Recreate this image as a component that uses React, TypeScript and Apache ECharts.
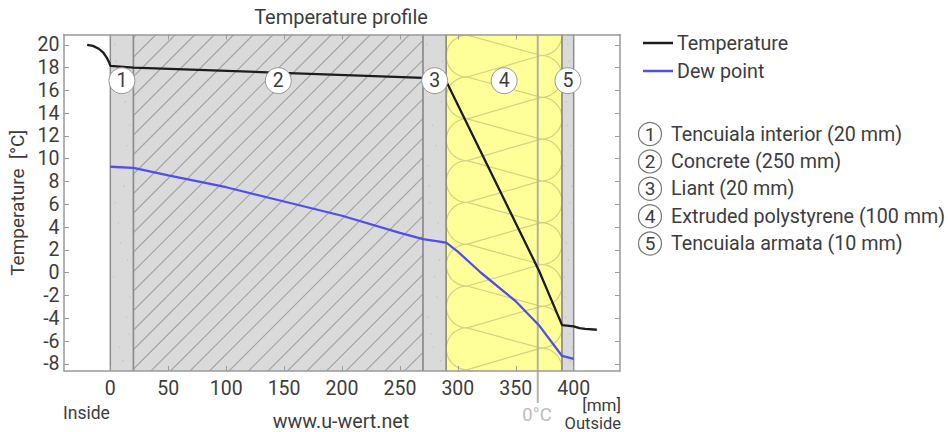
import React, { useEffect, useRef } from "react";
import * as echarts from "echarts";

const xTicks = [0, 50, 100, 150, 200, 250, 300, 350, 400];
const yTicks = [-8, -6, -4, -2, 0, 2, 4, 6, 8, 10, 12, 14, 16, 18, 20];

const temperature = [
  [-20, 20.0], [-15, 19.9], [-10, 19.65], [-6, 19.3], [-3, 18.85], [-1, 18.45], [0, 18.15],
  [20, 18.0], [270, 17.1], [290, 16.8], [370, 0.2], [390, -4.6], [400, -4.7],
  [405, -4.85], [410, -4.93], [420, -5.0],
];
const dewPoint = [
  [0, 9.3], [20, 9.2], [50, 8.55], [100, 7.5], [150, 6.25], [200, 5.0], [250, 3.5],
  [270, 2.95], [290, 2.65], [300, 1.85], [320, 0.0], [350, -2.5], [370, -4.6],
  [390, -7.3], [400, -7.55],
];
const layerNames = [
  "Tencuiala interior (20 mm)",
  "Concrete (250 mm)",
  "Liant (20 mm)",
  "Extruded polystyrene (100 mm)",
  "Tencuiala armata (10 mm)",
];
const layerStart = [0, 20, 270, 290, 390];
const layerEnd = [20, 270, 290, 390, 400];
const layerKind = ["plaster", "concrete", "plaster", "insulation", "plaster"];
const freezeX = 369;

const FONT = "Roboto";
const TEXT = "#3d3d3d";
const AXIS = "#9a9a9a";

const speckU = [0.2, 0.7, 0.45, 0.8, 0.3, 0.6, 0.15, 0.55, 0.85, 0.35, 0.7, 0.25, 0.5, 0.75, 0.4, 0.65, 0.2, 0.85];
const speckV = [0.03, 0.08, 0.14, 0.2, 0.27, 0.33, 0.39, 0.45, 0.5, 0.56, 0.62, 0.67, 0.72, 0.78, 0.84, 0.89, 0.93, 0.97];

function renderLayer(params: any, api: any) {
  const i = api.value(2);
  const kind = layerKind[i];
  const cs = params.coordSys;
  const x0 = api.coord([api.value(0), 0])[0];
  const x1 = api.coord([api.value(1), 0])[0];
  const yT = cs.y;
  const yB = cs.y + cs.height;
  const h = yB - yT;
  const children: any[] = [];
  const edge = kind === "insulation" ? "#94946e" : "#8c8c8c";
  children.push({
    type: "rect",
    shape: { x: x0, y: yT, width: x1 - x0, height: h },
    style: { fill: kind === "insulation" ? "#ffff99" : "#dadada" },
  });
  if (kind === "concrete") {
    const step = 19.5;
    for (let d = -h + ((h % step) - 2); d < x1 - x0; d += step) {
      let ax = x0 + d, ay = yB, bx = x0 + d + h, by = yT;
      if (ax < x0) { ay -= x0 - ax; ax = x0; }
      if (bx > x1) { by += bx - x1; bx = x1; }
      if (bx > ax) {
        children.push({
          type: "line",
          shape: { x1: ax, y1: ay, x2: bx, y2: by },
          style: { stroke: "#a3a3a3", lineWidth: 1.1 },
        });
      }
    }
  }
  if (kind === "plaster") {
    speckU.forEach((u, k) => {
      children.push({
        type: "circle",
        shape: { cx: x0 + u * (x1 - x0), cy: yT + speckV[(k * 5 + i * 3) % speckV.length] * h, r: 0.7 },
        style: { fill: "#c2c2c2" },
      });
    });
  }
  if (kind === "insulation") {
    const r = 21;
    const lx = x0 + r;
    const rx = x1 - r;
    const stroke = "#d2d283";
    const period = 41.8;
    const arc = (cx: number, cy: number, sign: number) => {
      const pts: number[][] = [];
      for (let a = -90; a <= 90; a += 10) {
        const t = (a * Math.PI) / 180;
        pts.push([cx + sign * r * Math.cos(t), cy + r * Math.sin(t)]);
      }
      return pts;
    };
    for (let k = -2; k < 9; k++) {
      const yl = 77 + period * k;
      const yr = 55.5 + period * k;
      children.push({ type: "polyline", shape: { points: arc(lx, yl + period / 2, -1) }, style: { fill: "none", stroke, lineWidth: 1.2 } });
      children.push({ type: "polyline", shape: { points: arc(rx, yr + period / 2, 1) }, style: { fill: "none", stroke, lineWidth: 1.2 } });
      children.push({ type: "line", shape: { x1: lx, y1: yl, x2: rx, y2: yr }, style: { stroke, lineWidth: 1.2 } });
      children.push({ type: "line", shape: { x1: lx, y1: yl, x2: rx, y2: yr + period }, style: { stroke, lineWidth: 1.2 } });
    }
  }
  [x0, x1].forEach((x) => {
    children.push({
      type: "line",
      shape: { x1: x, y1: yT, x2: x, y2: yB },
      style: { stroke: edge, lineWidth: 1.5 },
    });
  });
  return { type: "group", children };
}

function renderFreeze(params: any, api: any) {
  const cs = params.coordSys;
  const x = api.coord([api.value(0), 0])[0];
  return {
    type: "line",
    shape: { x1: x, y1: cs.y, x2: x, y2: cs.y + cs.height + 32 },
    style: { stroke: "#b2b2aa", lineWidth: 2 },
  };
}

export default function App() {
  const ref = useRef<HTMLDivElement>(null);
  useEffect(() => {
    const chart = echarts.init(ref.current!, undefined, { renderer: "svg" });
    const tickAxis = {
      axisLine: { show: true, onZero: false, lineStyle: { color: AXIS, width: 1.5 } },
      axisTick: { show: true, inside: true, length: 5, lineStyle: { color: AXIS, width: 1 } },
      splitLine: { show: false },
      z: 3,
    };
    const graphics: any[] = [];
    const txt = (text: string, x: number, y: number, size: number, align: string, fill = TEXT) => ({
      type: "text",
      x,
      y,
      silent: true,
      style: { text, fontFamily: FONT, fontSize: size, fill, align, verticalAlign: "middle" },
    });
    layerNames.forEach((n, i) => {
      const y = 134 + i * 27.4;
      graphics.push({
        type: "circle",
        x: 650,
        y,
        silent: true,
        shape: { cx: 0, cy: 0, r: 11.5 },
        style: { fill: "#fff", stroke: "#777", lineWidth: 1.2 },
      });
      graphics.push(txt(String(i + 1), 650, y, 19, "center"));
      graphics.push(txt(n, 671, y, 19.7, "left"));
    });
    graphics.push(txt("www.u-wert.net", 341, 421, 19.7, "center"));
    graphics.push(txt("Inside", 63, 413, 17.5, "left"));
    graphics.push(txt("[mm]", 621, 404.5, 17, "right"));
    graphics.push(txt("Outside", 621, 423, 16.5, "right"));
    graphics.push(txt("0°C", 537, 415, 18.5, "center", "#bdbdbd"));

    chart.setOption({
      animation: false,
      backgroundColor: "#fff",
      title: {
        text: "Temperature profile",
        left: 336,
        top: 2,
        textAlign: "center",
        textStyle: { fontFamily: FONT, fontSize: 20, fontWeight: "normal", color: TEXT },
      },
      grid: { left: 64, right: 328, top: 34.5, bottom: 61, outerBoundsMode: "none" },
      legend: {
        orient: "vertical",
        left: 643,
        top: 33,
        padding: 0,
        itemWidth: 30,
        itemHeight: 2.5,
        itemGap: 8,
        data: [
          { name: "Temperature", icon: "rect" },
          { name: "Dew point", icon: "rect" },
        ],
        textStyle: { fontFamily: FONT, fontSize: 19.7, color: TEXT, padding: [0, 0, 0, -1] },
      },
      xAxis: [
        {
          type: "value",
          min: -40,
          max: 440,
          ...tickAxis,
          axisTick: { ...tickAxis.axisTick, customValues: xTicks },
          axisLabel: { customValues: xTicks, fontFamily: FONT, fontSize: 19.5, color: TEXT, margin: 7 },
        },
        {
          type: "value",
          position: "top",
          min: -40,
          max: 440,
          ...tickAxis,
          axisTick: { ...tickAxis.axisTick, customValues: xTicks },
          axisLabel: { show: false },
        },
      ],
      yAxis: [
        {
          type: "value",
          min: -8.62,
          max: 20.9,
          name: "Temperature  [°C]",
          nameLocation: "middle",
          nameGap: 24,
          nameTextStyle: { fontFamily: FONT, fontSize: 19, color: TEXT },
          ...tickAxis,
          axisTick: { ...tickAxis.axisTick, customValues: yTicks },
          axisLabel: { customValues: yTicks, fontFamily: FONT, fontSize: 19.5, color: TEXT, margin: 4.5 },
        },
        {
          type: "value",
          position: "right",
          min: -8.62,
          max: 20.9,
          ...tickAxis,
          axisTick: { ...tickAxis.axisTick, customValues: yTicks },
          axisLabel: { show: false },
        },
      ],
      series: [
        {
          type: "custom",
          name: "layers",
          renderItem: renderLayer,
          data: layerStart.map((s, i) => [s, layerEnd[i], i]),
          clip: true,
          silent: true,
          z: 1,
          encode: { x: [0, 1] },
        },
        {
          type: "custom",
          name: "freeze",
          renderItem: renderFreeze,
          data: [[freezeX]],
          clip: false,
          silent: true,
          z: 2,
          encode: { x: 0 },
        },
        {
          type: "line",
          name: "Temperature",
          data: temperature,
          showSymbol: false,
          symbol: "none",
          lineStyle: { color: "#1c1c1c", width: 2.3 },
          itemStyle: { color: "#1c1c1c" },
          z: 4,
        },
        {
          type: "line",
          name: "Dew point",
          data: dewPoint,
          showSymbol: false,
          symbol: "none",
          lineStyle: { color: "#4f4ff0", width: 2.3 },
          itemStyle: { color: "#4f4ff0" },
          z: 4,
        },
        {
          type: "scatter",
          name: "tags",
          data: layerStart.map((s, i) => [(s + layerEnd[i]) / 2, 16.85, i + 1]),
          symbol: "circle",
          symbolSize: 26,
          itemStyle: { color: "#fff", borderColor: "#999", borderWidth: 1, opacity: 1 },
          label: {
            show: true,
            position: "inside",
            formatter: (p: any) => String(p.value[2]),
            fontFamily: FONT,
            fontSize: 19.5,
            color: TEXT,
          },
          silent: true,
          z: 5,
        },
      ],
      graphic: graphics,
    });
    return () => chart.dispose();
  }, []);
  return <div ref={ref} style={{ position: "absolute", left: 0, top: 0, width: 948, height: 432 }} />;
}
